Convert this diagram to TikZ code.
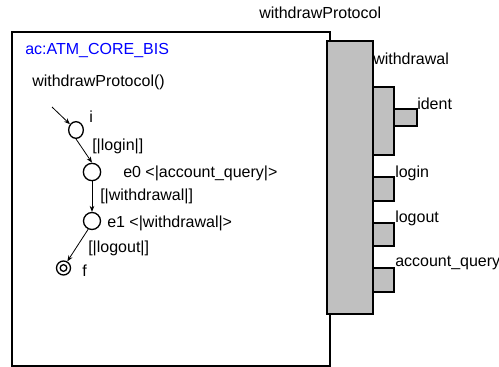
\documentclass[tikz,border=0pt]{standalone}
\usepackage{fontspec}
\setmainfont{Liberation Sans}
\usetikzlibrary{arrows.meta,shapes.geometric}
\definecolor{portgray}{HTML}{C0C0C0}
\definecolor{acblue}{HTML}{0000FF}
\begin{document}
\begin{tikzpicture}[x=0.75pt,y=-0.75pt,
  font=\fontsize{12}{14}\selectfont,
  lbl/.style={anchor=west, inner sep=0pt},
  statenode/.style={draw, ellipse, line width=1pt, inner sep=0pt},
  trans/.style={-{Stealth[length=4.5pt,width=3.5pt]}, line width=0.6pt},
  framebox/.style={draw, line width=1.5pt},
  portbox/.style={draw, fill=portgray, line width=1.5pt}]
\useasboundingbox (0,0) rectangle (499,367);
% component frame
\draw[framebox] (12,32) rectangle (330,366);
\draw[portbox] (327,41) rectangle (373,314);
\draw[portbox] (373,87) rectangle (394,155);
\draw[portbox] (394,109) rectangle (417,126);
\draw[portbox] (373,177) rectangle (394,201);
\draw[portbox] (373,223) rectangle (394,246);
\draw[portbox] (373,268) rectangle (394,292);
% port labels
\node[lbl] (tWP) at (259,13) {withdrawProtocol};
\node[lbl] (tWd) at (373,59) {withdrawal};
\node[lbl] (tId) at (417,104) {ident};
\node[lbl] (tLi) at (395,173) {login};
\node[lbl] (tLo) at (395,218) {logout};
\node[lbl] (tAq) at (395,263) {account\_query};
% inside texts
\node[lbl, text=acblue] (tAc) at (25,51) {ac:ATM\_CORE\_BIS};
\node[lbl] (tPr) at (32,82) {withdrawProtocol()};
% states
\coordinate (init) at (52,107);
\node[statenode, minimum width=11pt, minimum height=12.5pt] (i) at (76,130) {};
\node[statenode, minimum width=13pt, minimum height=13pt] (e0) at (92,172) {};
\node[statenode, minimum width=12.75pt, minimum height=12.75pt] (e1) at (92,221) {};
\node[draw, circle, line width=1pt, minimum size=10.5pt, inner sep=0pt] (f) at (63.5,268) {};
\node[draw, circle, line width=1pt, minimum size=5pt, inner sep=0pt] (fin) at (63.5,268) {};
% state labels
\node[lbl] (ti) at (89,117) {i};
\node[lbl] (te0) at (123,173) {e0 <|account\_query|>};
\node[lbl] (te1) at (107,223) {e1 <|withdrawal|>};
\node[lbl] (tf) at (82,271) {f};
% transitions
\draw[trans] (init) -- (i);
\draw[trans] (i.south) -- (e0.north);
\draw[trans] (e0.south) -- (e1.north);
\draw[trans] (e1.-115) -- (f.60);
\node[lbl] (tg1) at (92,146) {[|login|]};
\node[lbl] (tg2) at (100,196) {[|withdrawal|]};
\node[lbl] (tg3) at (88,248) {[|logout|]};
\end{tikzpicture}
\end{document}
